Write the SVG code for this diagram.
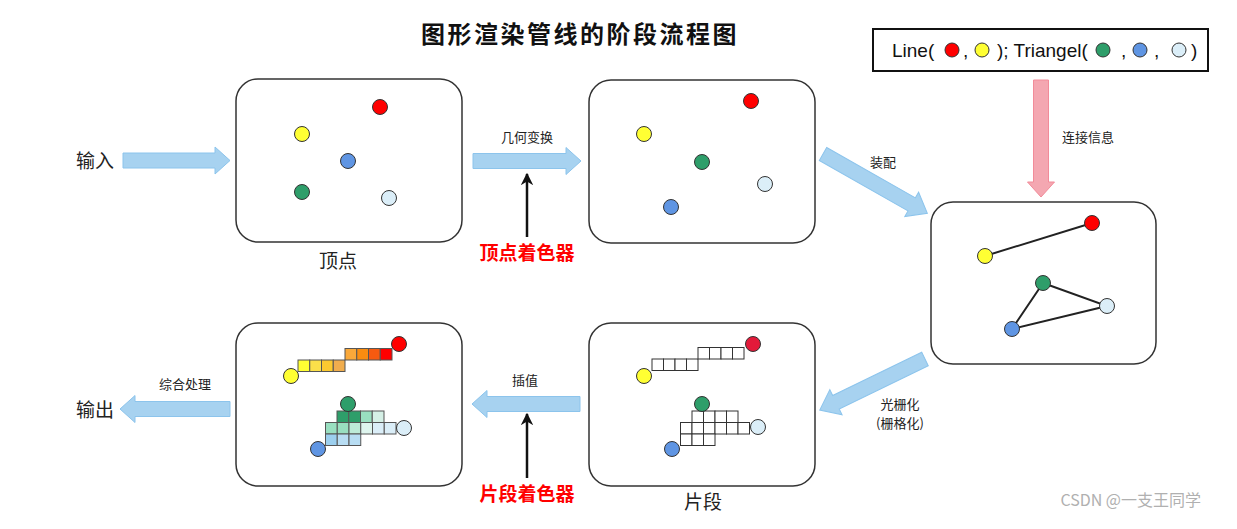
<svg xmlns="http://www.w3.org/2000/svg" width="1237" height="529" viewBox="0 0 1237 529">
<defs>
<style>
.box{fill:#fff;stroke:#333;stroke-width:1.5}
.v{stroke:#333;stroke-width:1}
.r{fill:#ff0000}.y{fill:#ffff33}.g{fill:#2e9e6a}.b{fill:#5f95e3}.l{fill:#dbeef8}
.barrow{fill:#a7d2f0;stroke:#8cc4ec;stroke-width:1}
.parrow{fill:#f4a7b1;stroke:#f28b99;stroke-width:1}
.lbl{font-family:"Noto Sans CJK SC","Liberation Sans",sans-serif;font-size:13px;fill:#222;text-anchor:middle}
.big{font-family:"Noto Sans CJK SC","Liberation Sans",sans-serif;font-size:19px;fill:#222;text-anchor:middle}
.red{font-family:"Noto Sans CJK SC","Liberation Sans",sans-serif;font-size:19px;font-weight:bold;fill:#ff0000;text-anchor:middle}
.leg{font-family:"Liberation Sans",Arial,sans-serif;font-size:19px;fill:#111}
.cell{fill:#fff;stroke:#333;stroke-width:1}
.c2{stroke:#555;stroke-width:1}
.line{stroke:#222;stroke-width:2;fill:none}
</style>
<marker id="ah" viewBox="0 0 10 10" refX="9" refY="5" markerWidth="5" markerHeight="5" orient="auto" markerUnits="strokeWidth">
<path d="M0,0 L10,5 L0,10 L3,5 Z" fill="#111"/>
</marker>
</defs>
<rect width="1237" height="529" fill="#fff"/>

<text x="580" y="43" style="font-family:'Noto Sans CJK SC',sans-serif;font-size:24px;font-weight:bold;fill:#111;letter-spacing:2.5px" text-anchor="middle">图形渲染管线的阶段流程图</text>

<g id="legend">
<rect x="873" y="29" width="335" height="42" fill="#fff" stroke="#111" stroke-width="2"/>
<text class="leg" x="892" y="57">Line(</text>
<circle class="v r" cx="952" cy="50" r="7"/>
<text class="leg" x="963" y="57">,</text>
<circle class="v y" cx="982" cy="50" r="7"/>
<text class="leg" x="997" y="57">); Triangel(</text>
<circle class="v g" cx="1103" cy="50" r="7"/>
<text class="leg" x="1121" y="57">,</text>
<circle class="v b" cx="1140" cy="50" r="7"/>
<text class="leg" x="1154" y="57">,</text>
<circle class="v l" cx="1179" cy="50" r="7"/>
<text class="leg" x="1191" y="57">)</text>
</g>

<g id="connectors">
<path class="barrow" transform="translate(123,160.5)" d="M0,-7.5 H92 V-13.5 L107,0 L92,13.5 V7.5 H0 Z"/>
<path class="barrow" transform="translate(473,161)" d="M0,-7.5 H93 V-13.5 L108,0 L93,13.5 V7.5 H0 Z"/>
<path class="barrow" transform="translate(823,154) rotate(29.6)" d="M0,-7.5 H102 V-14 L120,0 L102,14 V7.5 H0 Z"/>
<path class="barrow" transform="translate(925,359) rotate(154.1)" d="M0,-7.5 H99 V-14 L117,0 L99,14 V7.5 H0 Z"/>
<path class="barrow" transform="translate(580,404) rotate(180)" d="M0,-7.5 H93 V-13.5 L108,0 L93,13.5 V7.5 H0 Z"/>
<path class="barrow" transform="translate(230,409) rotate(180)" d="M0,-7.5 H95 V-13.5 L110,0 L95,13.5 V7.5 H0 Z"/>
<path class="parrow" transform="translate(1041,80) rotate(90)" d="M0,-7.5 H102 V-13.5 L117,0 L102,13.5 V7.5 H0 Z"/>
<line x1="527" y1="237" x2="527" y2="174" stroke="#111" stroke-width="2.5" marker-end="url(#ah)"/>
<line x1="527" y1="478" x2="527" y2="414" stroke="#111" stroke-width="2.5" marker-end="url(#ah)"/>
<text class="big" x="95" y="168">输入</text>
<text class="lbl" x="527" y="142">几何变换</text>
<text class="red" x="527" y="260">顶点着色器</text>
<text class="lbl" x="883" y="167">装配</text>
<text class="lbl" x="1088" y="142">连接信息</text>
<text class="lbl" x="900" y="409">光栅化</text>
<text class="lbl" x="900" y="428">(栅格化)</text>
<text class="lbl" x="525" y="385">插值</text>
<text class="red" x="527" y="501">片段着色器</text>
<text class="lbl" x="185" y="389">综合处理</text>
<text class="big" x="95" y="417">输出</text>
</g>

<g id="vertices">
<rect class="box" x="236" y="79" width="226" height="163" rx="22"/>
<circle class="v r" cx="380" cy="107" r="7.5"/>
<circle class="v y" cx="302" cy="134" r="7.5"/>
<circle class="v b" cx="348" cy="161" r="7.5"/>
<circle class="v g" cx="302" cy="192" r="7.5"/>
<circle class="v l" cx="389" cy="198" r="7.5"/>
<text class="big" x="338" y="268">顶点</text>
</g>

<g id="transformed">
<rect class="box" x="589" y="80" width="226" height="163" rx="22"/>
<circle class="v r" cx="751" cy="101" r="7.5"/>
<circle class="v y" cx="644" cy="134" r="7.5"/>
<circle class="v g" cx="702" cy="162" r="7.5"/>
<circle class="v l" cx="765" cy="184" r="7.5"/>
<circle class="v b" cx="671" cy="207" r="7.5"/>
</g>

<g id="assembly">
<rect class="box" x="931" y="202" width="225" height="162" rx="22"/>
<line class="line" x1="985" y1="256" x2="1092" y2="223"/>
<polyline class="line" points="1043,283 1107,306 1012,329 1043,283"/>
<circle class="v r" cx="1092" cy="223" r="7.5"/>
<circle class="v y" cx="985" cy="256" r="7.5"/>
<circle class="v g" cx="1043" cy="283" r="7.5"/>
<circle class="v l" cx="1107" cy="306" r="7.5"/>
<circle class="v b" cx="1012" cy="329" r="7.5"/>
</g>

<g id="fragments">
<rect class="box" x="589" y="323" width="226" height="163" rx="22"/>
<g class="cell">
<rect x="652" y="359" width="11.5" height="11.5"/><rect x="663.5" y="359" width="11.5" height="11.5"/><rect x="675" y="359" width="11.5" height="11.5"/><rect x="686.5" y="359" width="11.5" height="11.5"/>
<rect x="698" y="347.5" width="11.5" height="11.5"/><rect x="709.5" y="347.5" width="11.5" height="11.5"/><rect x="721" y="347.5" width="11.5" height="11.5"/><rect x="732.5" y="347.5" width="11.5" height="11.5"/>
<rect x="692" y="411" width="11.5" height="11.5"/><rect x="703.5" y="411" width="11.5" height="11.5"/><rect x="715" y="411" width="11.5" height="11.5"/><rect x="726.5" y="411" width="11.5" height="11.5"/>
<rect x="680.5" y="422.5" width="11.5" height="11.5"/><rect x="692" y="422.5" width="11.5" height="11.5"/><rect x="703.5" y="422.5" width="11.5" height="11.5"/><rect x="715" y="422.5" width="11.5" height="11.5"/><rect x="726.5" y="422.5" width="11.5" height="11.5"/><rect x="738" y="422.5" width="11.5" height="11.5"/>
<rect x="680.5" y="434" width="11.5" height="11.5"/><rect x="692" y="434" width="11.5" height="11.5"/><rect x="703.5" y="434" width="11.5" height="11.5"/>
</g>
<circle class="v" fill="#e31a3a" cx="753" cy="344" r="7.5"/>
<circle class="v y" cx="644" cy="376" r="7.5"/>
<circle class="v g" cx="702" cy="404" r="7.5"/>
<circle class="v l" cx="758" cy="427" r="7.5"/>
<circle class="v b" cx="672" cy="449" r="7.5"/>
<text class="big" x="703" y="509">片段</text>
</g>

<g id="output">
<rect class="box" x="236" y="323" width="226" height="163" rx="22"/>
<g class="c2">
<rect x="298" y="360" width="11.75" height="11.5" fill="#ffff33"/><rect x="309.75" y="360" width="11.75" height="11.5" fill="#fbe04a"/><rect x="321.5" y="360" width="11.75" height="11.5" fill="#fbc930"/><rect x="333.25" y="360" width="11.75" height="11.5" fill="#f0ad4e"/>
<rect x="345" y="348.5" width="11.75" height="11.5" fill="#f9a83a"/><rect x="356.75" y="348.5" width="11.75" height="11.5" fill="#f98c10"/><rect x="368.5" y="348.5" width="11.75" height="11.5" fill="#f65a10"/><rect x="380.25" y="348.5" width="11.75" height="11.5" fill="#ff0000"/>
<rect x="337" y="411" width="11.75" height="11.5" fill="#2e9e6a"/><rect x="348.75" y="411" width="11.75" height="11.5" fill="#2e9e6a"/><rect x="360.5" y="411" width="11.75" height="11.5" fill="#99dfc0"/><rect x="372.25" y="411" width="11.75" height="11.5" fill="#d5f0e6"/>
<rect x="325.5" y="422.5" width="11.75" height="11.5" fill="#99dfc0"/><rect x="337.25" y="422.5" width="11.75" height="11.5" fill="#99dfc0"/><rect x="349" y="422.5" width="11.75" height="11.5" fill="#bdebd8"/><rect x="360.75" y="422.5" width="11.75" height="11.5" fill="#def5ee"/><rect x="372.5" y="422.5" width="11.75" height="11.5" fill="#dbeef8"/><rect x="384.25" y="422.5" width="11.75" height="11.5" fill="#dbeef8"/>
<rect x="325.5" y="434" width="11.75" height="11.5" fill="#9ccfee"/><rect x="337.25" y="434" width="11.75" height="11.5" fill="#b8ddf3"/><rect x="349" y="434" width="11.75" height="11.5" fill="#b8ddf3"/>
</g>
<circle class="v r" cx="399" cy="344" r="7.5"/>
<circle class="v y" cx="291" cy="376" r="7.5"/>
<circle class="v g" cx="348" cy="404" r="7.5"/>
<circle class="v l" cx="404" cy="428" r="7.5"/>
<circle class="v b" cx="318" cy="449" r="7.5"/>
</g>

<text x="1201" y="506" text-anchor="end" style="font-family:'Noto Sans CJK SC','Liberation Sans',sans-serif;font-size:16px;fill:#b0b0b0">CSDN @一支王同学</text>
</svg>
